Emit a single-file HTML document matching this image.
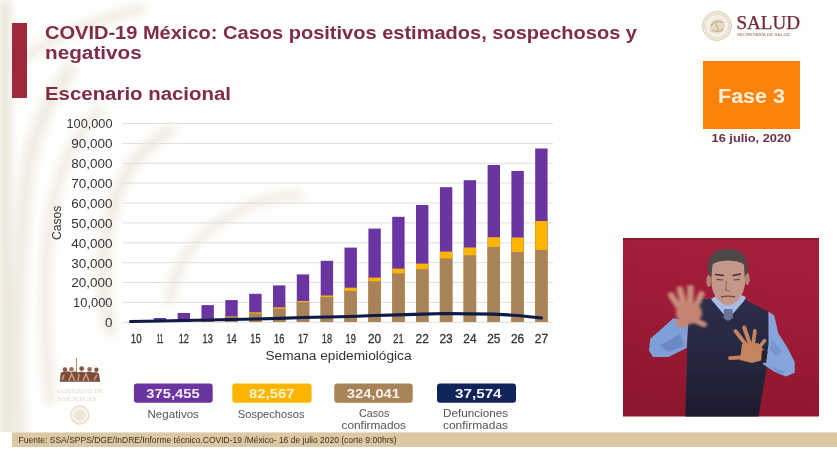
<!DOCTYPE html>
<html><head><meta charset="utf-8">
<style>
html,body{margin:0;padding:0;width:837px;height:464px;overflow:hidden;background:#fefefd;}
svg{display:block;font-family:"Liberation Sans",sans-serif;filter:blur(0.35px);}
</style></head>
<body>
<svg width="837" height="464" viewBox="0 0 837 464">
<rect x="0" y="0" width="837" height="464" fill="#fefefd"/>
<defs><filter id="wmblur" x="-20%" y="-20%" width="140%" height="140%"><feGaussianBlur stdDeviation="4"/></filter></defs>
<clipPath id="wmclip"><rect x="0" y="0" width="837" height="432"/></clipPath>
<g clip-path="url(#wmclip)"><g id="watermark" fill="none" stroke="#f1ece3" stroke-linecap="round" filter="url(#wmblur)">
<rect x="0" y="0" width="11" height="440" fill="#ece6da" stroke="none"/>
<path d="M20,440 C15,360 18,280 24,200 C28,150 40,110 70,70" stroke-width="14"/>
<path d="M50,400 C45,340 42,280 50,220 C56,180 70,140 100,110" stroke-width="10"/>
<path d="M110,330 C100,290 100,250 115,200 C125,170 140,150 170,130" stroke-width="12"/>
<path d="M170,300 C175,260 200,230 240,210 C260,200 280,195 300,195" stroke-width="9"/>
<path d="M20,60 C50,40 90,20 140,10" stroke-width="10"/>
</g></g>

<!-- title block -->
<rect x="12" y="23" width="15" height="75" fill="#a0283c"/>
<g fill="#802c46" font-weight="bold" font-size="18">
<text x="45" y="38.5" textLength="592" lengthAdjust="spacingAndGlyphs">COVID-19 México: Casos positivos estimados, sospechosos y</text>
<text x="45" y="58.8" textLength="96.8" lengthAdjust="spacingAndGlyphs">negativos</text>
<text x="45" y="99.8" textLength="186" lengthAdjust="spacingAndGlyphs">Escenario nacional</text>
</g>

<!-- SALUD logo -->
<circle cx="717" cy="26" r="14.5" fill="#f5f0e8" stroke="#d9cbb3" stroke-width="1"/>
<circle cx="717" cy="26" r="12" fill="none" stroke="#e2d6c2" stroke-width="2.2" stroke-dasharray="1.2 0.8"/>
<path d="M709.5,30 C709,24 712,19 718,19 C723,19 725.5,22.5 725,27 C724.5,31 721,33.5 716.5,33.5 C712.5,33.5 710,32 709.5,30 Z" fill="#e6dac6"/>
<path d="M711,26 C713,21 719,20 723,23 M712,30 C715,32 720,32 723,29 M716,22 L718,30" stroke="#c4af8e" stroke-width="1.1" fill="none"/>
<text x="736.5" y="29" font-family="Liberation Serif" font-size="18" fill="#742739" stroke="#742739" stroke-width="0.25" textLength="63.5" lengthAdjust="spacingAndGlyphs">SALUD</text>
<text x="737" y="36.4" font-size="4.3" font-weight="bold" fill="#a59795" textLength="53" lengthAdjust="spacingAndGlyphs">SECRETARÍA DE SALUD</text>

<!-- Fase 3 -->
<rect x="703" y="61" width="97" height="68" fill="#fd820c"/>
<text x="718" y="102.8" font-size="20" font-weight="bold" fill="#fdf0d8" textLength="67" lengthAdjust="spacingAndGlyphs">Fase 3</text>
<text x="711.6" y="142.3" font-size="11.5" font-weight="bold" fill="#6b2c4a" textLength="79.5" lengthAdjust="spacingAndGlyphs">16 julio, 2020</text>

<!-- chart -->
<g id="grid"><line x1="122.5" y1="123.5" x2="553" y2="123.5" stroke="#dfdfdf" stroke-width="1"/>
<line x1="122.5" y1="143.4" x2="553" y2="143.4" stroke="#dfdfdf" stroke-width="1"/>
<line x1="122.5" y1="163.3" x2="553" y2="163.3" stroke="#dfdfdf" stroke-width="1"/>
<line x1="122.5" y1="183.1" x2="553" y2="183.1" stroke="#dfdfdf" stroke-width="1"/>
<line x1="122.5" y1="203.0" x2="553" y2="203.0" stroke="#dfdfdf" stroke-width="1"/>
<line x1="122.5" y1="222.9" x2="553" y2="222.9" stroke="#dfdfdf" stroke-width="1"/>
<line x1="122.5" y1="242.8" x2="553" y2="242.8" stroke="#dfdfdf" stroke-width="1"/>
<line x1="122.5" y1="262.7" x2="553" y2="262.7" stroke="#dfdfdf" stroke-width="1"/>
<line x1="122.5" y1="282.5" x2="553" y2="282.5" stroke="#dfdfdf" stroke-width="1"/>
<line x1="122.5" y1="302.4" x2="553" y2="302.4" stroke="#dfdfdf" stroke-width="1"/>
<line x1="122.5" y1="322.3" x2="553" y2="322.3" stroke="#dfdfdf" stroke-width="1"/></g>
<g font-size="12" fill="#333"><text x="112.5" y="128.4" text-anchor="end" textLength="46" lengthAdjust="spacingAndGlyphs">100,000</text>
<text x="112.5" y="148.3" text-anchor="end" textLength="41.3" lengthAdjust="spacingAndGlyphs">90,000</text>
<text x="112.5" y="168.2" text-anchor="end" textLength="41.3" lengthAdjust="spacingAndGlyphs">80,000</text>
<text x="112.5" y="188.0" text-anchor="end" textLength="41.3" lengthAdjust="spacingAndGlyphs">70,000</text>
<text x="112.5" y="207.9" text-anchor="end" textLength="41.3" lengthAdjust="spacingAndGlyphs">60,000</text>
<text x="112.5" y="227.8" text-anchor="end" textLength="41.3" lengthAdjust="spacingAndGlyphs">50,000</text>
<text x="112.5" y="247.7" text-anchor="end" textLength="41.3" lengthAdjust="spacingAndGlyphs">40,000</text>
<text x="112.5" y="267.6" text-anchor="end" textLength="41.3" lengthAdjust="spacingAndGlyphs">30,000</text>
<text x="112.5" y="287.4" text-anchor="end" textLength="41.3" lengthAdjust="spacingAndGlyphs">20,000</text>
<text x="112.5" y="307.3" text-anchor="end" textLength="39.4" lengthAdjust="spacingAndGlyphs">10,000</text>
<text x="112.5" y="327.2" text-anchor="end" textLength="7.5" lengthAdjust="spacingAndGlyphs">0</text></g>
<g><rect x="130.0" y="321" width="12.4" height="1.0" fill="#6b35a1"/>
<rect x="153.8" y="318" width="12.4" height="4.0" fill="#6b35a1"/>
<rect x="177.6" y="313" width="12.4" height="9.0" fill="#6b35a1"/>
<rect x="201.5" y="305.1" width="12.4" height="16.9" fill="#6b35a1"/>
<rect x="201.5" y="318.5" width="12.4" height="3.5" fill="#a8835a"/>
<rect x="225.3" y="300.1" width="12.4" height="21.9" fill="#6b35a1"/>
<rect x="225.3" y="315.9" width="12.4" height="6.1" fill="#a8835a"/>
<rect x="249.2" y="293.8" width="12.4" height="28.2" fill="#6b35a1"/>
<rect x="249.2" y="312.3" width="12.4" height="9.7" fill="#fbb400"/>
<rect x="249.2" y="313.5" width="12.4" height="8.5" fill="#a8835a"/>
<rect x="273.0" y="285.4" width="12.4" height="36.6" fill="#6b35a1"/>
<rect x="273.0" y="307.3" width="12.4" height="14.7" fill="#fbb400"/>
<rect x="273.0" y="308.7" width="12.4" height="13.3" fill="#a8835a"/>
<rect x="296.8" y="274.4" width="12.4" height="47.6" fill="#6b35a1"/>
<rect x="296.8" y="301" width="12.4" height="21.0" fill="#fbb400"/>
<rect x="296.8" y="302.1" width="12.4" height="19.9" fill="#a8835a"/>
<rect x="320.7" y="260.8" width="12.4" height="61.2" fill="#6b35a1"/>
<rect x="320.7" y="295.5" width="12.4" height="26.5" fill="#fbb400"/>
<rect x="320.7" y="297" width="12.4" height="25.0" fill="#a8835a"/>
<rect x="344.5" y="247.6" width="12.4" height="74.4" fill="#6b35a1"/>
<rect x="344.5" y="287.7" width="12.4" height="34.3" fill="#fbb400"/>
<rect x="344.5" y="291" width="12.4" height="31.0" fill="#a8835a"/>
<rect x="368.4" y="228.6" width="12.4" height="93.4" fill="#6b35a1"/>
<rect x="368.4" y="277.6" width="12.4" height="44.4" fill="#fbb400"/>
<rect x="368.4" y="281.2" width="12.4" height="40.8" fill="#a8835a"/>
<rect x="392.2" y="216.8" width="12.4" height="105.2" fill="#6b35a1"/>
<rect x="392.2" y="268.6" width="12.4" height="53.4" fill="#fbb400"/>
<rect x="392.2" y="273.4" width="12.4" height="48.6" fill="#a8835a"/>
<rect x="416.0" y="205" width="12.4" height="117.0" fill="#6b35a1"/>
<rect x="416.0" y="263.6" width="12.4" height="58.4" fill="#fbb400"/>
<rect x="416.0" y="269.2" width="12.4" height="52.8" fill="#a8835a"/>
<rect x="439.9" y="187.2" width="12.4" height="134.8" fill="#6b35a1"/>
<rect x="439.9" y="251.6" width="12.4" height="70.4" fill="#fbb400"/>
<rect x="439.9" y="258.5" width="12.4" height="63.5" fill="#a8835a"/>
<rect x="463.7" y="180.2" width="12.4" height="141.8" fill="#6b35a1"/>
<rect x="463.7" y="247.5" width="12.4" height="74.5" fill="#fbb400"/>
<rect x="463.7" y="255.3" width="12.4" height="66.7" fill="#a8835a"/>
<rect x="487.6" y="165" width="12.4" height="157.0" fill="#6b35a1"/>
<rect x="487.6" y="237.2" width="12.4" height="84.8" fill="#fbb400"/>
<rect x="487.6" y="247" width="12.4" height="75.0" fill="#a8835a"/>
<rect x="511.4" y="171" width="12.4" height="151.0" fill="#6b35a1"/>
<rect x="511.4" y="237.5" width="12.4" height="84.5" fill="#fbb400"/>
<rect x="511.4" y="252" width="12.4" height="70.0" fill="#a8835a"/>
<rect x="535.2" y="148.5" width="12.4" height="173.5" fill="#6b35a1"/>
<rect x="535.2" y="221" width="12.4" height="101.0" fill="#fbb400"/>
<rect x="535.2" y="250" width="12.4" height="72.0" fill="#a8835a"/></g>
<path d="M130.5,321.5 L160.0,321.0 L183.8,320.5 L207.7,320.0 L231.5,319.5 L255.4,319.0 L279.2,318.3 L303.0,317.5 L326.9,317.0 L350.7,316.5 L374.6,315.5 L398.4,314.8 L422.2,314.2 L446.1,313.5 L469.9,313.8 L493.8,314.2 L517.6,315.5 L541.4,318.0" fill="none" stroke="#0e1a47" stroke-width="3.2" stroke-linecap="round" stroke-linejoin="round"/>
<g font-size="12" fill="#333" stroke="#333" stroke-width="0.3"><text x="136.2" y="342.8" text-anchor="middle" textLength="10.8" lengthAdjust="spacingAndGlyphs">10</text>
<text x="160.0" y="342.8" text-anchor="middle" textLength="6.7" lengthAdjust="spacingAndGlyphs">11</text>
<text x="183.8" y="342.8" text-anchor="middle" textLength="10.2" lengthAdjust="spacingAndGlyphs">12</text>
<text x="207.7" y="342.8" text-anchor="middle" textLength="10.2" lengthAdjust="spacingAndGlyphs">13</text>
<text x="231.5" y="342.8" text-anchor="middle" textLength="10.2" lengthAdjust="spacingAndGlyphs">14</text>
<text x="255.4" y="342.8" text-anchor="middle" textLength="10.2" lengthAdjust="spacingAndGlyphs">15</text>
<text x="279.2" y="342.8" text-anchor="middle" textLength="10.2" lengthAdjust="spacingAndGlyphs">16</text>
<text x="303.0" y="342.8" text-anchor="middle" textLength="10.2" lengthAdjust="spacingAndGlyphs">17</text>
<text x="326.9" y="342.8" text-anchor="middle" textLength="10.2" lengthAdjust="spacingAndGlyphs">18</text>
<text x="350.7" y="342.8" text-anchor="middle" textLength="10.2" lengthAdjust="spacingAndGlyphs">19</text>
<text x="374.6" y="342.8" text-anchor="middle" textLength="13.2" lengthAdjust="spacingAndGlyphs">20</text>
<text x="398.4" y="342.8" text-anchor="middle" textLength="10.3" lengthAdjust="spacingAndGlyphs">21</text>
<text x="422.2" y="342.8" text-anchor="middle" textLength="13.2" lengthAdjust="spacingAndGlyphs">22</text>
<text x="446.1" y="342.8" text-anchor="middle" textLength="13.2" lengthAdjust="spacingAndGlyphs">23</text>
<text x="469.9" y="342.8" text-anchor="middle" textLength="13.2" lengthAdjust="spacingAndGlyphs">24</text>
<text x="493.8" y="342.8" text-anchor="middle" textLength="13.2" lengthAdjust="spacingAndGlyphs">25</text>
<text x="517.6" y="342.8" text-anchor="middle" textLength="13.2" lengthAdjust="spacingAndGlyphs">26</text>
<text x="541.4" y="342.8" text-anchor="middle" textLength="13.2" lengthAdjust="spacingAndGlyphs">27</text></g>
<text transform="translate(61.2,240) rotate(-90)" font-size="12.3" fill="#333" textLength="34.3" lengthAdjust="spacingAndGlyphs">Casos</text>
<text x="265.5" y="359.6" font-size="12.5" fill="#333" textLength="146" lengthAdjust="spacingAndGlyphs">Semana epidemiológica</text>

<!-- 4T logo -->
<g filter="url(#soft)">
<rect x="76" y="358" width="1" height="15" fill="#b09070"/>
<path d="M59.8,381.8 L60.5,374 C61,372 63,371.5 65,372 C67,371 69,371 71,372.5 C73,371 76,371 78,372.5 C80,371.5 83,371.5 85,372.5 C87,371.5 91,371.5 93,372.5 C95,372 98,372 99,374 L100.2,381.8 Z" fill="#7e4c3b"/>
<circle cx="65" cy="369.6" r="2.3" fill="#8a5c48"/>
<circle cx="71.5" cy="369.3" r="2.3" fill="#9a6c55"/>
<circle cx="81.7" cy="368.6" r="2.4" fill="#845442"/>
<circle cx="89.6" cy="369.3" r="2.3" fill="#9a6c55"/>
<circle cx="96.4" cy="369.8" r="2.2" fill="#845442"/>
<path d="M69,381 L71.5,374 L75,381 M83,381 L86,374 L89,381 M62,380 L64,375 M94,380 L97,375 M78,381 L79,374" stroke="#c4a080" stroke-width="1.5" fill="none"/>
<text x="57" y="393.4" font-family="Liberation Serif" font-size="6.5" fill="#e6dccc" textLength="46" lengthAdjust="spacingAndGlyphs">GOBIERNO DE</text>
<text x="57" y="400.6" font-family="Liberation Serif" font-size="6.5" fill="#e6dccc" textLength="39" lengthAdjust="spacingAndGlyphs">MÉXICO</text>
<circle cx="79.8" cy="415" r="9" fill="#f7f3ec" stroke="#e6dccb" stroke-width="1.3"/>
<circle cx="79.8" cy="415" r="5.5" fill="#ede4d5"/>
</g>

<!-- legend -->
<rect x="133.9" y="383.6" width="78.8" height="19.1" rx="3" fill="#6b35a1"/>
<rect x="232.3" y="383.6" width="79.3" height="19.1" rx="3" fill="#fbb400"/>
<rect x="334.3" y="383.6" width="78.4" height="19.1" rx="3" fill="#a8835a"/>
<rect x="437" y="383.6" width="79" height="19.1" rx="3" fill="#112459"/>
<g font-size="12.6" font-weight="bold">
<text x="146.3" y="398.2" fill="#f2eefa" textLength="53.3" lengthAdjust="spacingAndGlyphs">375,455</text>
<text x="249" y="398.2" fill="#fff3c8" textLength="45.4" lengthAdjust="spacingAndGlyphs">82,567</text>
<text x="346.8" y="398.2" fill="#f8f2e8" textLength="53.2" lengthAdjust="spacingAndGlyphs">324,041</text>
<text x="455" y="398.2" fill="#f2f4fa" textLength="46.6" lengthAdjust="spacingAndGlyphs">37,574</text>
</g>
<g font-size="10.7" fill="#555">
<text x="147.5" y="417.8" textLength="51.4" lengthAdjust="spacingAndGlyphs">Negativos</text>
<text x="237.8" y="417.8" textLength="66.7" lengthAdjust="spacingAndGlyphs">Sospechosos</text>
<text x="359" y="416.6" textLength="30.3" lengthAdjust="spacingAndGlyphs">Casos</text>
<text x="341.5" y="428.5" textLength="64.5" lengthAdjust="spacingAndGlyphs">confirmados</text>
<text x="443" y="416.6" textLength="65" lengthAdjust="spacingAndGlyphs">Defunciones</text>
<text x="443" y="428.5" textLength="65" lengthAdjust="spacingAndGlyphs">confirmadas</text>
</g>

<!-- footer -->
<rect x="12" y="432.4" width="825" height="14.6" fill="#dcc8a2"/>
<text x="18.6" y="442.7" font-size="8.5" fill="#3a3020">Fuente: SSA/SPPS/DGE/InDRE/Informe técnico.COVID-19 /México- 16 de julio 2020 (corte 9:00hrs)</text>

<!-- video box -->
<defs>
<linearGradient id="vbg" x1="0.3" y1="0" x2="0.1" y2="1">
<stop offset="0" stop-color="#a41f3a"/>
<stop offset="0.5" stop-color="#9a1a34"/>
<stop offset="1" stop-color="#8b152b"/>
</linearGradient>
<filter id="soft" x="-5%" y="-5%" width="110%" height="110%"><feGaussianBlur stdDeviation="0.7"/></filter>
<filter id="blur2" x="-20%" y="-20%" width="140%" height="140%"><feGaussianBlur stdDeviation="1.8 1.1"/></filter>
<linearGradient id="vestg" x1="0" y1="0" x2="0" y2="1"><stop offset="0" stop-color="#2c2e4a"/><stop offset="0.5" stop-color="#262740"/><stop offset="1" stop-color="#1e1c2c"/></linearGradient>
<clipPath id="vclip"><rect x="623" y="238" width="196" height="178.5"/></clipPath>
</defs>
<rect x="623" y="238" width="196" height="178.5" fill="url(#vbg)"/>
<rect x="623" y="238" width="196" height="1.5" fill="#6e1226" opacity="0.6"/>
<g clip-path="url(#vclip)" filter="url(#soft)">
  <!-- vest -->
  <path d="M697,299 L712.4,299 L727.8,318.5 L743.5,299 L768,311.6 L769.4,351.7 L758.5,417 L685.3,417 L687.9,328 L689,312 Z" fill="url(#vestg)"/>
  <!-- collar / neck -->
  <path d="M711,299 L716,296 L728,305 L741,295 L746,297 L744,301 L730,317 L726,317 L712.4,301 Z" fill="#a6bfe8"/>
  <path d="M724,309 L732.5,309 L733,318 L728,321 L723.5,318 Z" fill="#6a7595"/>
  <!-- head -->
  <ellipse cx="708.8" cy="281" rx="2.5" ry="6" fill="#b08474"/>
  <ellipse cx="747.2" cy="279" rx="2.5" ry="6" fill="#b08474"/>
  <path d="M711.5,266 C712,259 719,257 728,257 C737,257 744,259 744.5,266 L745,284 C744,292 740,299 736,302 C733,304.5 731,305.5 728.4,305.5 C725,305.5 722,304 719.5,301 C715,297 712,291 711.5,284 Z" fill="#c3978a"/>
  <path d="M707.8,272 C707,262 710,254 718,250.5 C724,248.5 732,248.5 738,250.5 C745,253.5 748,261 747.5,272 L745,277 L744,265 C742,262 736,261 728,260.5 C720,261 714,262 712.5,265 L711,277 Z" fill="#4d4747"/>
  <path d="M715,274.5 L724,275.5 M732.5,275.5 L741,274" stroke="#3e3232" stroke-width="1.6"/>
  <path d="M716.5,279.5 L723,280 M733.5,280 L740,279.5" stroke="#5b3e38" stroke-width="1.2"/>
  <path d="M726.5,281 L725.5,290 L729.5,291" stroke="#9a6e62" stroke-width="1.3" fill="none"/>
  <path d="M721,297 C725,296 731,296 735,297" stroke="#6e4640" stroke-width="1.4" fill="none"/>
  <!-- left arm -->
  <path d="M673.6,318 L688,322 L687.9,328.5 L686.6,348 L668.5,357 L652.9,357 L649,350.5 L650.3,338.8 L663.3,327.2 Z" fill="#7f9fd8"/>
  <path d="M660,345 L680,334 L684,346 L668,352 Z" fill="#5f7cb6" opacity="0.6"/>
  <!-- right arm -->
  <path d="M768.5,311.6 L774.3,315.5 L778.2,333 L787.9,348.5 L794.7,362 L794.7,372.7 L786,376.6 L774.3,371.8 L762.7,364 L766.5,358.2 L768.5,344.6 Z" fill="#86a5dc"/>
  <path d="M772,340 L782,352 L776,356 L770,350 Z" fill="#6a88c0" opacity="0.5"/>
  <path d="M770,366 L786,372 L780,375 Z" fill="#6a88c0" opacity="0.5"/>
  <!-- right hand -->
  <g stroke="#c5845f" stroke-linecap="round" fill="none">
    <path d="M747,346 L735.5,331" stroke-width="3.8"/>
    <path d="M750,344 L744.2,327.5" stroke-width="4"/>
    <path d="M753,345 L754.9,331" stroke-width="3.8"/>
    <path d="M757,350 L764.6,340.7" stroke-width="3.6"/>
    <path d="M748,357 L730,358.2" stroke-width="3.8"/>
  </g>
  <path d="M742,344 L758,343 L764,350 L763,360 L752,363 L740,360 Z" fill="#c5845f"/>
  <path d="M762,350 L767.5,352 L766,363 L761,362 Z" fill="#2a2425"/>
</g>
<!-- left hand blurred -->
<g clip-path="url(#vclip)" filter="url(#blur2)">
  <g stroke="#c98f7c" stroke-linecap="round" fill="none">
    <path d="M682,312 L671,295" stroke-width="6"/>
    <path d="M685,310 L680,289.5" stroke-width="6.5"/>
    <path d="M690,310 L690.5,288" stroke-width="6.5"/>
    <path d="M694,311 L701.5,294" stroke-width="6"/>
    <path d="M692,319 L704,324.5" stroke-width="5.5"/>
  </g>
  <ellipse cx="689" cy="313" rx="13" ry="11" fill="#c48672"/>
  <path d="M676,320 L690,322 L686,328 L676,326 Z" fill="#c48672"/>
</g>

</svg>
</body></html>
